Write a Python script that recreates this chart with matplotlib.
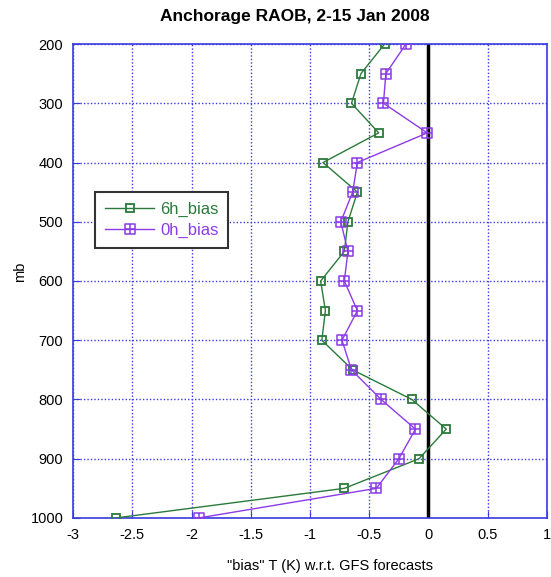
import matplotlib
matplotlib.use("Agg")
import matplotlib.pyplot as plt
from matplotlib.path import Path

plt.rcParams['font.family'] = ['Liberation Sans', 'DejaVu Sans']

# pressure levels (mb) and temperature bias (K) vs GFS forecasts
levels = [200, 250, 300, 350, 400, 450, 500, 550, 600, 650, 700, 750, 800, 850, 900, 950, 1000]
bias_6h = [-0.37, -0.57, -0.65, -0.42, -0.89, -0.60, -0.68, -0.71, -0.91, -0.87,
           -0.90, -0.64, -0.14, 0.15, -0.08, -0.71, -2.64]
bias_0h = [-0.19, -0.36, -0.38, -0.01, -0.60, -0.64, -0.74, -0.68, -0.71, -0.60,
           -0.73, -0.65, -0.40, -0.11, -0.25, -0.44, -1.94]

xticks = [-3, -2.5, -2, -1.5, -1, -0.5, 0, 0.5, 1]
xticklabels = ["-3", "-2.5", "-2", "-1.5", "-1", "-0.5", "0", "0.5", "1"]
yticks = [200, 300, 400, 500, 600, 700, 800, 900, 1000]

green = '#2b7a3b'
purple = '#8c3be6'
blue = '#3a3ae0'

# square with a cross inside
boxplus = Path(
    [(-1, -1), (1, -1), (1, 1), (-1, 1), (-1, -1), (0, -1), (0, 1), (-1, 0), (1, 0)],
    [Path.MOVETO, Path.LINETO, Path.LINETO, Path.LINETO, Path.CLOSEPOLY,
     Path.MOVETO, Path.LINETO, Path.MOVETO, Path.LINETO])

fig = plt.figure(figsize=(5.51, 5.77), dpi=100)
ax = fig.add_axes([0.1325, 0.1023, 0.8602, 0.8214])

ax.axvline(0, color='black', lw=2.5, zorder=2)
ax.plot(bias_6h, levels, color=green, lw=1, marker='s', ms=6, mfc='none',
        mec=green, mew=1.3, label='6h_bias', zorder=3)
ax.plot(bias_0h, levels, color=purple, lw=1, marker=boxplus, ms=6.5, mfc='none',
        mec=purple, mew=1.1, label='0h_bias', zorder=3)

ax.set_xlim(-3, 1)
ax.set_ylim(1000, 200)
ax.set_xticks(xticks)
ax.set_xticklabels(xticklabels)
ax.set_yticks(yticks)
ax.grid(True, color=blue, ls=(0, (1, 1.5)), lw=1)
for s in ax.spines.values():
    s.set_color(blue)
    s.set_linewidth(1.2)
ax.tick_params(direction='in', length=5, color=blue, labelsize=10.5, pad=7)

fig.text(295 / 551, 1 - 16 / 577, 'Anchorage RAOB, 2-15 Jan 2008', ha='center',
         va='center', fontsize=12.5, fontweight='bold')
ax.set_xlabel('"bias" T (K) w.r.t. GFS forecasts', fontsize=10.5)
ax.xaxis.set_label_coords((330 - 73) / 474, -0.087)
ax.set_ylabel('mb', fontsize=10.5)
ax.yaxis.set_label_coords(-0.098, 0.52)

leg = ax.legend(loc='upper left', bbox_to_anchor=(22 / 474, 1 - 148 / 474), fontsize=12,
                frameon=True, fancybox=False, edgecolor='#333333', framealpha=1,
                handlelength=2.95, handletextpad=0.35, borderpad=0.6, labelspacing=0.35,
                borderaxespad=0)
leg.get_frame().set_linewidth(1.5)
for txt, c in zip(leg.get_texts(), [green, purple]):
    txt.set_color(c)

fig.savefig('out.png', dpi=100)
